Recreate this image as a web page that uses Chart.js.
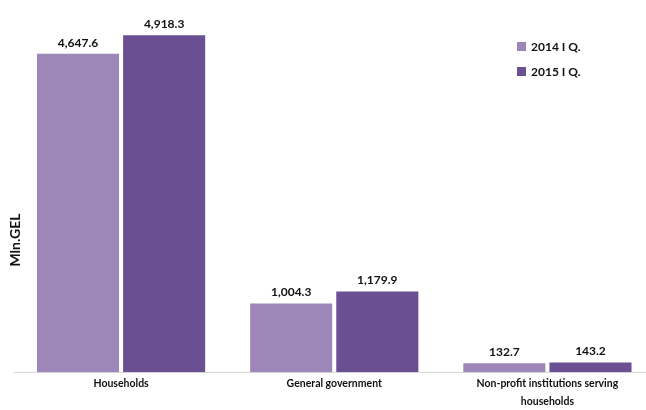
<!DOCTYPE html>
<html>
<head>
<meta charset="utf-8">
<script src="https://cdn.jsdelivr.net/npm/chart.js@4.4.0/dist/chart.umd.min.js"></script>
<style>
    html, body { margin: 0; padding: 0; background: #fff; overflow: hidden; }
    #wrap { width: 654px; height: 413px; }
</style>
</head>
<body>
<div id="wrap"><canvas id="chart" width="654" height="413"></canvas></div>
<script>
// Final consumption expenditure by sector, Mln.GEL
const categories = ['Households', 'General government', ['Non-profit institutions serving', 'households']];
const seriesNames = ['2014 I Q.', '2015 I Q.'];
const values2014 = [4647.6, 1004.3, 132.7];
const values2015 = [4918.3, 1179.9, 143.2];
const seriesColors = ['#9d87b9', '#6a4f93'];
const axisTitle = 'Mln.GEL';

const FONT = 'Lato, "Open Sans", sans-serif';

// value labels above each bar
const valueLabels = {
    id: 'valueLabels',
    afterDatasetsDraw(chart) {
        const ctx = chart.ctx;
        ctx.save();
        ctx.font = 'bold 12px ' + FONT;
        ctx.fillStyle = '#111';
        ctx.textAlign = 'center';
        ctx.textBaseline = 'bottom';
        chart.data.datasets.forEach((ds, i) => {
            chart.getDatasetMeta(i).data.forEach((bar, j) => {
                const text = ds.data[j].toLocaleString('en-US', { minimumFractionDigits: 1, maximumFractionDigits: 1 });
                ctx.fillText(text, bar.x, bar.y - 5);
            });
        });
        ctx.restore();
    }
};

// legend box in the top right corner and the rotated axis title
const sideText = {
    id: 'sideText',
    afterDraw(chart) {
        const ctx = chart.ctx;
        ctx.save();
        ctx.font = 'bold 12px ' + FONT;
        ctx.textBaseline = 'middle';
        chart.data.datasets.forEach((ds, i) => {
            const y = 47 + i * 25;
            ctx.fillStyle = ds.backgroundColor;
            ctx.fillRect(517, y - 5, 9, 9);
            ctx.fillStyle = '#111';
            ctx.fillText(ds.label, 531, y);
        });

        ctx.font = 'bold 14px ' + FONT;
        ctx.translate(15, 240);
        ctx.rotate(-Math.PI / 2);
        ctx.textAlign = 'center';
        ctx.fillText(axisTitle, 0, 0);
        ctx.restore();
    }
};

const ctx = document.getElementById('chart').getContext('2d');
new Chart(ctx, {
    type: 'bar',
    data: {
        labels: categories,
        datasets: [
            { label: seriesNames[0], data: values2014, backgroundColor: seriesColors[0] },
            { label: seriesNames[1], data: values2015, backgroundColor: seriesColors[1] }
        ]
    },
    options: {
        responsive: false,
        animation: false,
        categoryPercentage: 0.808,
        barPercentage: 0.953,
        layout: { padding: { left: 14.5, right: 0, top: 9, bottom: 0 } },
        scales: {
            x: {
                grid: { display: false, drawTicks: false },
                border: { display: true, color: '#d9d9d9', width: 1 },
                ticks: {
                    color: '#111',
                    padding: 2,
                    maxRotation: 0,
                    autoSkip: false,
                    font: { family: FONT, size: 10.5, weight: 'bold', lineHeight: 1.75 }
                }
            },
            y: {
                display: false,
                min: 0,
                max: 5300
            }
        },
        plugins: {
            legend: { display: false },
            tooltip: { enabled: false }
        }
    },
    plugins: [valueLabels, sideText]
});
</script>
</body>
</html>
